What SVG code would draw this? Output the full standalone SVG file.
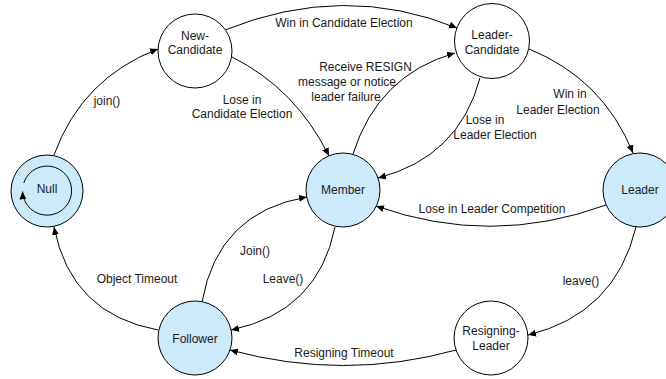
<svg xmlns="http://www.w3.org/2000/svg" width="666" height="379" viewBox="0 0 666 379">
<style>
.n{stroke:#000;stroke-width:1}
.b{fill:#cceafa}
.w{fill:#fff}
.t{font-family:"Liberation Sans",Arial,sans-serif;font-size:12px;fill:#1a1a1a;text-anchor:middle}
.e{fill:none;stroke:#000;stroke-width:1;marker-end:url(#ah)}
</style>
<defs>
<marker id="ah" markerWidth="9" markerHeight="8" refX="8" refY="3.5" orient="auto" markerUnits="userSpaceOnUse">
<path d="M0,0 L8,3.5 L0,7 Z" fill="#000"/>
</marker>
</defs>
<rect width="666" height="379" fill="#fff"/>
<g id="connectors">
<path class="e" d="M54,155 Q82,78 158,49"/>
<path class="e" d="M225,30 Q344,-18 457,28"/>
<path class="e" d="M232,57 Q296,89 329,156"/>
<path class="e" d="M353,154 Q378,75 455,53"/>
<path class="e" d="M480,78 Q459,157 378,178"/>
<path class="e" d="M529,49 Q603,79 633,153"/>
<path class="e" d="M606,205 Q491,247 376,206"/>
<path class="e" d="M636,227 Q615,314 528,335"/>
<path class="e" d="M456,350 Q344,381 230,350"/>
<path class="e" d="M335,227 Q318,312 231,330"/>
<path class="e" d="M202,302 Q218,212 307,197"/>
<path class="e" d="M158,330 Q71,314 54,227"/>
<text class="t" x="107" y="105">join()</text>
<text class="t" x="344" y="27">Win in Candidate Election</text>
<text class="t" x="242" y="104">Lose in</text>
<text class="t" x="242" y="118">Candidate Election</text>
<text class="t" x="365.5" y="71">Receive RESIGN</text>
<text class="t" x="347" y="86">message or notice</text>
<text class="t" x="346" y="101">leader failure</text>
<text class="t" x="485" y="123.5">Lose in</text>
<text class="t" x="495" y="139">Leader Election</text>
<text class="t" x="570" y="97.5">Win in</text>
<text class="t" x="558" y="113.5">Leader Election</text>
<text class="t" x="492" y="212.5">Lose in Leader Competition</text>
<text class="t" x="581" y="285">leave()</text>
<text class="t" x="344" y="356.5">Resigning Timeout</text>
<text class="t" x="283" y="282.5">Leave()</text>
<text class="t" x="255" y="255">Join()</text>
<text class="t" x="137" y="282.5">Object Timeout</text>
</g>
<g id="null">
<circle class="n b" cx="47" cy="191" r="36"/>
<path class="e" d="M23.8,183 A24.5,24.5 0 1 1 22.6,191.5"/>
<text class="t" x="47" y="193">Null</text>
</g>
<g id="new-candidate">
<circle class="n w" cx="195" cy="51" r="37"/>
<text class="t" x="195" y="39.5">New-</text>
<text class="t" x="195" y="54">Candidate</text>
</g>
<g id="leader-candidate">
<circle class="n w" cx="492" cy="41" r="37.5"/>
<text class="t" x="492" y="38.5">Leader-</text>
<text class="t" x="492" y="53.5">Candidate</text>
</g>
<g id="member">
<circle class="n b" cx="343" cy="190" r="37"/>
<text class="t" x="343" y="194">Member</text>
</g>
<g id="leader">
<circle class="n b" cx="640" cy="190" r="37"/>
<text class="t" x="640" y="194">Leader</text>
</g>
<g id="follower">
<circle class="n b" cx="195" cy="338" r="37"/>
<text class="t" x="195" y="342.5">Follower</text>
</g>
<g id="resigning-leader">
<circle class="n w" cx="491" cy="338" r="37"/>
<text class="t" x="491" y="335">Resigning-</text>
<text class="t" x="491" y="349.5">Leader</text>
</g>
</svg>
